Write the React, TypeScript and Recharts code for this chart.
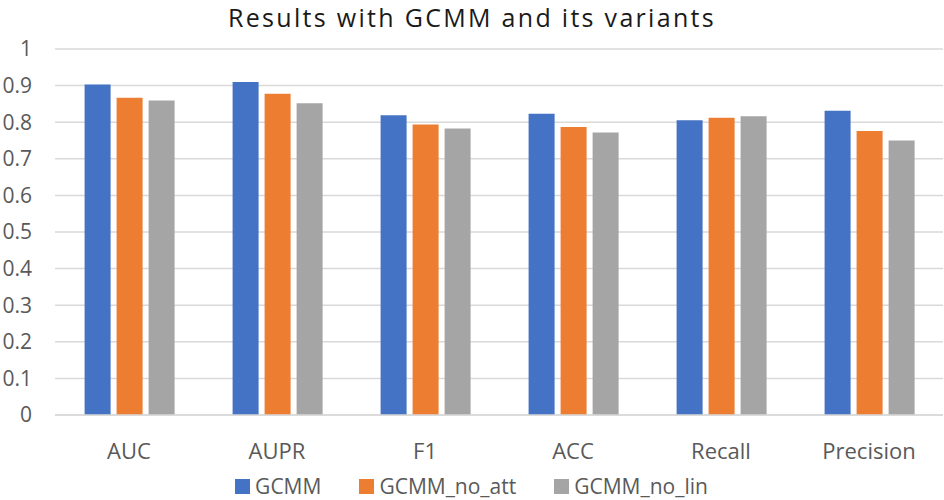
import React from "react";
import { BarChart, Bar, XAxis, YAxis, CartesianGrid, Legend } from "recharts";

const categories = ["AUC", "AUPR", "F1", "ACC", "Recall", "Precision"];
const gcmm = [0.903, 0.91, 0.819, 0.823, 0.805, 0.831];
const gcmmNoAtt = [0.867, 0.878, 0.794, 0.787, 0.812, 0.776];
const gcmmNoLin = [0.859, 0.852, 0.783, 0.772, 0.816, 0.75];
const yTicks = [0, 0.1, 0.2, 0.3, 0.4, 0.5, 0.6, 0.7, 0.8, 0.9, 1];

const series = [
  { key: "GCMM", color: "#4472C4" },
  { key: "GCMM_no_att", color: "#ED7D31" },
  { key: "GCMM_no_lin", color: "#A5A5A5" },
];

const data = categories.map((name, i) => ({
  name,
  GCMM: gcmm[i],
  GCMM_no_att: gcmmNoAtt[i],
  GCMM_no_lin: gcmmNoLin[i],
}));

const FONT = "'Open Sans', 'Noto Sans', sans-serif";

const LegendContent = ({ payload }: any) => (
  <div style={{ display: "flex", justifyContent: "center", alignItems: "center", gap: 38, paddingTop: 12 }}>
    {(payload || []).map((p: any) => (
      <div key={p.value} style={{ display: "flex", alignItems: "center" }}>
        <span style={{ width: 15, height: 15, background: p.color, display: "inline-block", marginRight: 5 }} />
        <span style={{ fontFamily: FONT, fontSize: 21, color: "#595959" }}>{p.value}</span>
      </div>
    ))}
  </div>
);

const App: React.FC = () => {
  return (
    <div style={{ position: "absolute", left: 0, top: 0, width: 944, height: 500, background: "#fff" }}>
      <div
        style={{
          position: "absolute",
          top: 0,
          left: 0,
          width: 944,
          textAlign: "center",
          fontFamily: FONT,
          fontSize: 25,
          letterSpacing: 2.3,
          color: "#1a1a1a",
          lineHeight: "normal",
        }}
      >
        Results with GCMM and its variants
      </div>
      <BarChart
        width={944}
        height={500}
        data={data}
        margin={{ top: 49, right: 1, left: 0, bottom: 0 }}
        barCategoryGap="20%"
        barGap={6}
      >
        <CartesianGrid vertical={false} stroke="#D9D9D9" strokeWidth={1.5} />
        <XAxis
          dataKey="name"
          height={45}
          axisLine={{ stroke: "#D9D9D9", strokeWidth: 1.5 }}
          tickLine={false}
          tickSize={0}
          tickMargin={28}
          tick={{ fontFamily: FONT, fontSize: 22, fill: "#595959" }}
        />
        <YAxis
          width={55}
          domain={[0, 1]}
          ticks={yTicks}
          axisLine={false}
          tickLine={false}
          tickSize={0}
          tickMargin={23}
          tick={{ fontFamily: FONT, fontSize: 21, fill: "#595959" }}
        />
        <Legend verticalAlign="bottom" height={40} content={<LegendContent />} />
        {series.map((s) => (
          <Bar key={s.key} dataKey={s.key} fill={s.color} isAnimationActive={false} />
        ))}
      </BarChart>
    </div>
  );
};

export default App;
